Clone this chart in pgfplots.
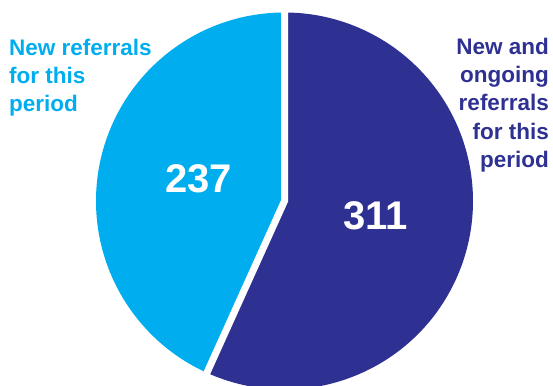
\documentclass[border=0pt]{standalone}
\usepackage{pgfplots}
\usepackage{pgfplotstable}
\pgfplotsset{compat=1.18}
\usepackage{fontspec}
\setmainfont{Liberation Sans}
\definecolor{lightb}{HTML}{00ADEE}
\definecolor{darkb}{HTML}{2E3192}
\pgfplotstableread{
label value
new 237
ongoing 311
}\piedata
\pgfplotstablegetelem{0}{value}\of\piedata
\let\va\pgfplotsretval
\pgfplotstablegetelem{1}{value}\of\piedata
\let\vb\pgfplotsretval
\pgfmathsetmacro\frac{\va/(\va+\vb)}
\pgfmathsetmacro\aone{90+360*\frac}
\begin{document}
\begin{tikzpicture}[x=1bp,y=1bp]
\useasboundingbox (0,0) rectangle (553,385);
\clip (0,0) rectangle (553,385);
\begin{axis}[hide axis, scale only axis, width=377bp, height=377bp,
  at={(284.5bp,184bp)}, anchor=center,
  xmin=-1, xmax=1, ymin=-1, ymax=1, clip=false]
\fill[lightb] (axis cs:0,0) -- (axis cs:0,1) arc[start angle=90, end angle=\aone, radius=188.5bp] -- cycle;
\fill[darkb] (axis cs:0,0) -- (axis cs:{cos(\aone)},{sin(\aone)}) arc[start angle=\aone, end angle=450, radius=188.5bp] -- cycle;
\draw[white, line width=7bp, line join=miter] (axis cs:0,1.1) -- (axis cs:0,0) -- (axis cs:{1.1*cos(\aone)},{1.1*sin(\aone)});
\end{axis}
\begin{scope}[font=\fontsize{22.5bp}{27bp}\selectfont\bfseries]
\node[lightb, anchor=base west, inner sep=0] at (9,330) {New referrals};
\node[lightb, anchor=base west, inner sep=0] at (9,302) {for this};
\node[lightb, anchor=base west, inner sep=0] at (9,274) {period};
\node[darkb, anchor=base east, inner sep=0] at (549,331) {New and};
\node[darkb, anchor=base east, inner sep=0] at (549,303) {ongoing};
\node[darkb, anchor=base east, inner sep=0] at (549,274.5) {referrals};
\node[darkb, anchor=base east, inner sep=0] at (549,246) {for this};
\node[darkb, anchor=base east, inner sep=0] at (549,218) {period};
\end{scope}
\begin{scope}[font=\fontsize{40bp}{44bp}\selectfont\bfseries]
\node[white, anchor=base, inner sep=0] at (198.5,193) {\va};
\node[white, anchor=base, inner sep=0] at (375.5,156) {\vb};
\end{scope}
\end{tikzpicture}
\end{document}
